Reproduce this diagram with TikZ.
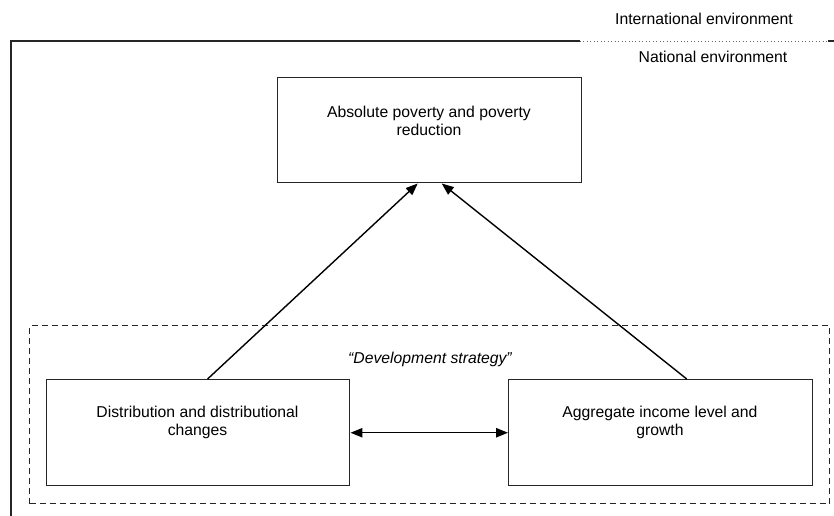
\documentclass[tikz,border=0pt]{standalone}
\usepackage{fontspec}
\setmainfont{Liberation Sans}
\usetikzlibrary{arrows.meta}
\begin{document}
\begin{tikzpicture}[x=0.75pt,y=-0.75pt,
  box/.style={draw=black!85, line width=1.1pt, minimum width=#1, inner sep=0pt, anchor=north west},
  lbl/.style={font=\fontsize{11.8}{13.6}\selectfont, align=center, inner sep=0pt},
  arr/.style={line width=1.05pt, -{Triangle[length=9pt,width=7pt]}},
  darr/.style={line width=1.05pt, {Triangle[length=9pt,width=7pt]}-{Triangle[length=9pt,width=7pt]}}
]
\useasboundingbox (0,0) rectangle (834,515);
% outer frame
\coordinate (fbl) at (11,518);
\coordinate (ftl) at (11,41);
\coordinate (fmid) at (580,41);
\coordinate (fdot) at (828,41);
\coordinate (fend) at (834,41);
\draw[line width=1.2pt, black!85] (fbl) -- (ftl) -- (fmid);
\draw[line width=0.6pt, black!60, dotted] (fmid) -- (fdot);
\draw[line width=1.2pt, black!85] (fdot) -- (fend);
\node[lbl] (intl) at (704,19) {International environment};
\node[lbl] (natl) at (713,57) {National environment};
% dashed strategy box
\node[draw=black!85, line width=1.05pt, dash pattern=on 4.5pt off 3pt, minimum width=800*0.75pt, minimum height=178*0.75pt, inner sep=0pt, anchor=north west] (strat) at (29,325) {};
\node[lbl, font=\fontsize{11.8}{13.6}\selectfont\itshape] (stratlbl) at (430,359) {“Development strategy”};
% boxes
\node[box=304*0.75pt, minimum height=105*0.75pt] (top) at (277,77) {};
\node[lbl] (toplbl) at (429,121) {Absolute poverty and poverty\\reduction};
\node[box=303*0.75pt, minimum height=106*0.75pt] (dist) at (46,379) {};
\node[lbl] (distlbl) at (197.5,422) {Distribution and distributional\\changes};
\node[box=304*0.75pt, minimum height=106*0.75pt] (agg) at (508,379) {};
\node[lbl] (agglbl) at (660,422) {Aggregate income level and\\growth};
% arrows
\draw[arr] ([xshift=7pt]dist.north) -- ([xshift=-9pt]top.south);
\draw[arr] ([xshift=19.5pt]agg.north) -- ([xshift=9pt]top.south);
\draw[darr] (dist.east) -- (agg.west);
\end{tikzpicture}
\end{document}
